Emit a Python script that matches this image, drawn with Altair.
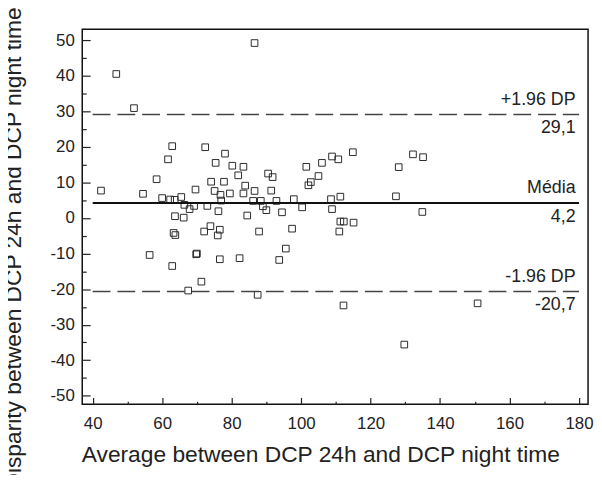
import altair as alt
import pandas as pd

# Bland-Altman points: average (x) and disparity (y)
avg = [46.8, 51.9, 42.4, 62.9, 61.7, 58.4, 54.5, 60.0, 62.3, 63.6,
       65.5, 69.6, 86.6, 72.4, 78.1, 75.4, 80.2, 83.4, 81.9, 74.1,
       77.8, 75.1, 76.8, 79.5, 83.9, 83.4, 86.6, 91.4, 90.5, 91.8,
       101.5, 106.0, 108.9, 110.7, 114.9, 105.0, 102.8, 102.1, 132.2, 135.1,
       128.1, 127.3, 134.9, 150.8, 129.7, 56.4, 62.9, 67.5, 63.3, 63.8,
       63.7, 66.2, 66.4, 67.9, 69.2, 69.8, 70.0, 77.0, 73.0, 76.2,
       84.5, 73.9, 72.1, 76.6, 76.0, 76.6, 82.3, 71.3, 87.5, 111.3,
       108.6, 97.9, 86.2, 88.4, 92.9, 89.0, 90.0, 94.5, 100.3, 108.9,
       111.3, 112.3, 115.1, 111.0, 87.9, 97.4, 95.6, 93.7, 112.2]
diff = [40.5, 30.9, 7.7, 20.2, 16.5, 10.9, 6.8, 5.6, 5.2, 5.1,
        5.9, 8.0, 49.2, 19.9, 18.1, 15.5, 14.7, 14.4, 12.0, 10.2,
        10.2, 7.6, 6.5, 6.9, 9.1, 6.9, 7.6, 7.7, 12.5, 11.5,
        14.4, 15.5, 17.3, 16.5, 18.5, 11.8, 10.1, 9.2, 17.9, 17.1,
        14.3, 6.1, 1.7, -24.0, -35.6, -10.4, -13.5, -20.4, -4.2, -4.8,
        0.5, 0.1, 3.7, 2.5, 3.4, -10.2, -10.0, 4.9, 3.4, 1.9,
        0.7, -2.3, -3.8, -3.3, -4.9, -11.6, -11.3, -17.9, -21.6, 6.0,
        5.3, 5.3, 4.8, 4.8, 4.8, 3.3, 2.2, 1.6, 3.0, 2.5,
        -1.0, -1.0, -1.3, -3.8, -3.8, -3.0, -8.6, -11.8, -24.6]

line_levels = [29.1, 4.2, -20.7]
line_kinds = ["limit", "mean", "limit"]
labels_above = ["+1.96 DP", "Média", "-1.96 DP"]
labels_below = ["29,1", "4,2", "-20,7"]
LINE_START = 40
LINE_END = 180
LABEL_X = 179

x_ticks = list(range(40, 181, 10))
y_ticks = list(range(-50, 51, 5))

# one table, shared field names, so every layer uses the same axes
pts = pd.DataFrame({"x": avg, "y": diff, "kind": "point"})
rules = pd.DataFrame({"x": [LINE_START] * 3, "x2": [LINE_END] * 3,
                      "y": line_levels, "kind": line_kinds})
lbls = pd.DataFrame({"x": [LABEL_X] * 3, "y": line_levels, "kind": "label",
                     "above": labels_above, "below": labels_below})
df = pd.concat([pts, rules, lbls], ignore_index=True)

FONT = "Liberation Sans"
xscale = alt.Scale(domain=[37, 182.6], nice=False, zero=False)
yscale = alt.Scale(domain=[-52.4, 53.1], nice=False, zero=False)

xaxis = alt.Axis(
    title="Average between DCP 24h and DCP night time",
    values=x_ticks,
    labelExpr="datum.value % 20 == 0 ? '' + datum.value : ''",
    tickSize={"condition": {"test": "datum.value % 20 == 0", "value": -7}, "value": -3},
    labelPadding=18, labelOverlap=False, labelBound=False,
    titleX=-1, titleY=58, titleAlign="left", titleBaseline="alphabetic",
)
yaxis = alt.Axis(
    title="Disparity between DCP 24h and DCP night time",
    values=y_ticks,
    labelExpr="datum.value % 10 == 0 ? '' + datum.value : ''",
    tickSize={"condition": {"test": "datum.value % 10 == 0", "value": -8}, "value": -4},
    labelPadding=16, labelOverlap=False, labelBound=False,
    titleX=-62, titleY=221, titleAlign="center", titleBaseline="alphabetic",
    titleAngle=270,
)

base = alt.Chart(df).encode(
    x=alt.X("x:Q", scale=xscale, axis=xaxis),
    y=alt.Y("y:Q", scale=yscale, axis=yaxis),
)

points = base.transform_filter("datum.kind == 'point'").mark_point(
    shape="square", filled=False, size=45, color="#2a2a2a", strokeWidth=1, opacity=1
)

mean_rule = base.transform_filter("datum.kind == 'mean'").mark_rule(
    color="#111", strokeWidth=2
).encode(x2="x2:Q")

limit_rule = base.transform_filter("datum.kind == 'limit'").mark_rule(
    color="#444", strokeWidth=1.5, strokeDash=[18, 7]
).encode(x2="x2:Q")

text_above = base.transform_filter("datum.kind == 'label'").mark_text(
    align="right", baseline="middle", dy=-15, font=FONT, fontSize=18, color="#222"
).encode(text="above:N")

text_below = base.transform_filter("datum.kind == 'label'").mark_text(
    align="right", baseline="middle", dy=14, font=FONT, fontSize=18, color="#222"
).encode(text="below:N")

chart = alt.layer(points, limit_rule, mean_rule, text_above, text_below).properties(
    width=511, height=379,
    autosize=alt.AutoSizeParams(type="none"),
    padding={"left": 75, "top": 19, "right": 6, "bottom": 69},
).configure_view(
    stroke="#111", strokeWidth=1.5
).configure_axis(
    labelFont=FONT, labelFontSize=17, labelColor="#222",
    titleFont=FONT, titleFontSize=23, titleFontWeight="normal", titleColor="#222",
    tickColor="#222", tickWidth=1.2, domain=False, grid=False,
    labelFlush=False, labelOverlap=False,
)

chart.save("out.html", embed_options={"renderer": "svg", "actions": False})
